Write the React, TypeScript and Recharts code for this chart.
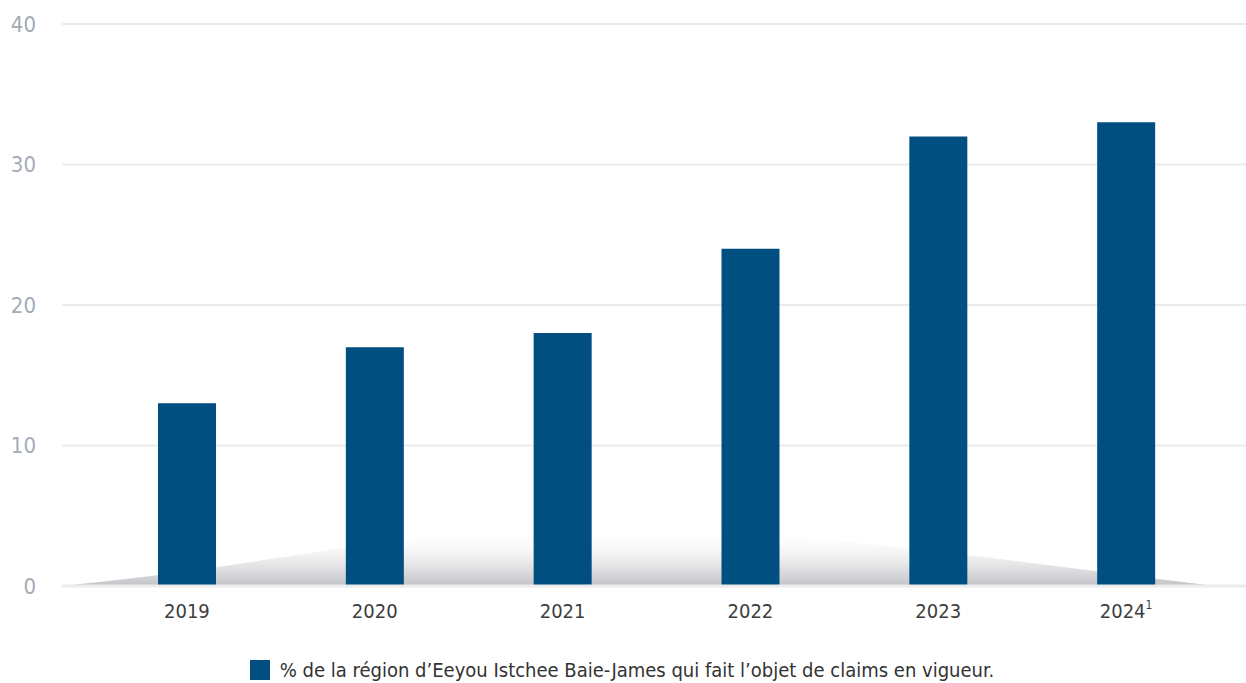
import React from 'react';
import { BarChart, Bar, XAxis, YAxis, CartesianGrid, Legend, Customized } from 'recharts';

const years = ['2019', '2020', '2021', '2022', '2023', '2024'];
const footnotes = ['', '', '', '', '', '1'];
const claimsPct = [13, 17, 18, 24, 32, 33];
const yTicks = [0, 10, 20, 30, 40];
const legendLabel = '% de la région d’Eeyou Istchee Baie-James qui fait l’objet de claims en vigueur.';

const FONT = "'DejaVu Sans Condensed', 'DejaVu Sans', sans-serif";
const BLUE = '#004f80';

const data = years.map((year, i) => ({ year, note: footnotes[i], pct: claimsPct[i] }));

function YearTick(props: any) {
  const { x, y, payload, index } = props;
  const note = footnotes[index] || '';
  return (
    <text x={x} y={y} dy={24} textAnchor="middle" fill="#3d3d3d" fontSize={20} fontFamily={FONT}>
      {payload.value}
      {note && (
        <tspan dy={-9} fontSize={12}>
          {note}
        </tspan>
      )}
    </text>
  );
}

// soft grey shadow sitting on the axis behind the bars (decoration only)
function Shadow() {
  const left = 62;
  const base = 586;
  return (
    <g>
      <defs>
        <linearGradient id="shade" x1="0" y1="0" x2="0" y2="1">
          <stop offset="0%" stopColor="#ffffff" stopOpacity={0} />
          <stop offset="60%" stopColor="#e6e6e8" stopOpacity={0.9} />
          <stop offset="100%" stopColor="#c2c3c7" stopOpacity={1} />
        </linearGradient>
      </defs>
      <path
        d={`M${left},${base} C300,562 400,528 580,528 C800,528 1000,560 1215,${base} Z`}
        fill="url(#shade)"
      />
    </g>
  );
}

function LegendContent() {
  return (
    <div style={{ display: 'flex', alignItems: 'center', justifyContent: 'center', paddingTop: 22, paddingRight: 2 }}>
      <span style={{ display: 'inline-block', width: 20, height: 20, background: BLUE, marginRight: 10 }} />
      <span style={{ fontFamily: FONT, fontSize: 20, color: '#333' }}>{legendLabel}</span>
    </div>
  );
}

export default function App() {
  return (
    <div style={{ position: 'absolute', left: 0, top: 0, width: 1246, height: 683, background: '#fff' }}>
      <BarChart width={1246} height={683} data={data} margin={{ top: 24, right: 0, left: 0, bottom: 0 }}>
        <CartesianGrid vertical={false} stroke="#ebebeb" strokeWidth={2} />
        <Customized component={Shadow} />
        <XAxis
          dataKey="year"
          axisLine={{ stroke: '#ececec', strokeWidth: 3 }}
          tickLine={false}
          tick={<YearTick />}
          padding={{ left: 31, right: 26 }}
          height={50}
          interval={0}
        />
        <YAxis
          domain={[0, 40]}
          ticks={yTicks}
          width={62}
          axisLine={false}
          tickLine={false}
          tickMargin={20}
          tick={{ fill: '#a3abb7', fontSize: 22, fontFamily: FONT }}
        />
        <Legend verticalAlign="bottom" height={47} content={<LegendContent />} />
        <Bar dataKey="pct" fill={BLUE} barSize={58} isAnimationActive={false} />
      </BarChart>
    </div>
  );
}
